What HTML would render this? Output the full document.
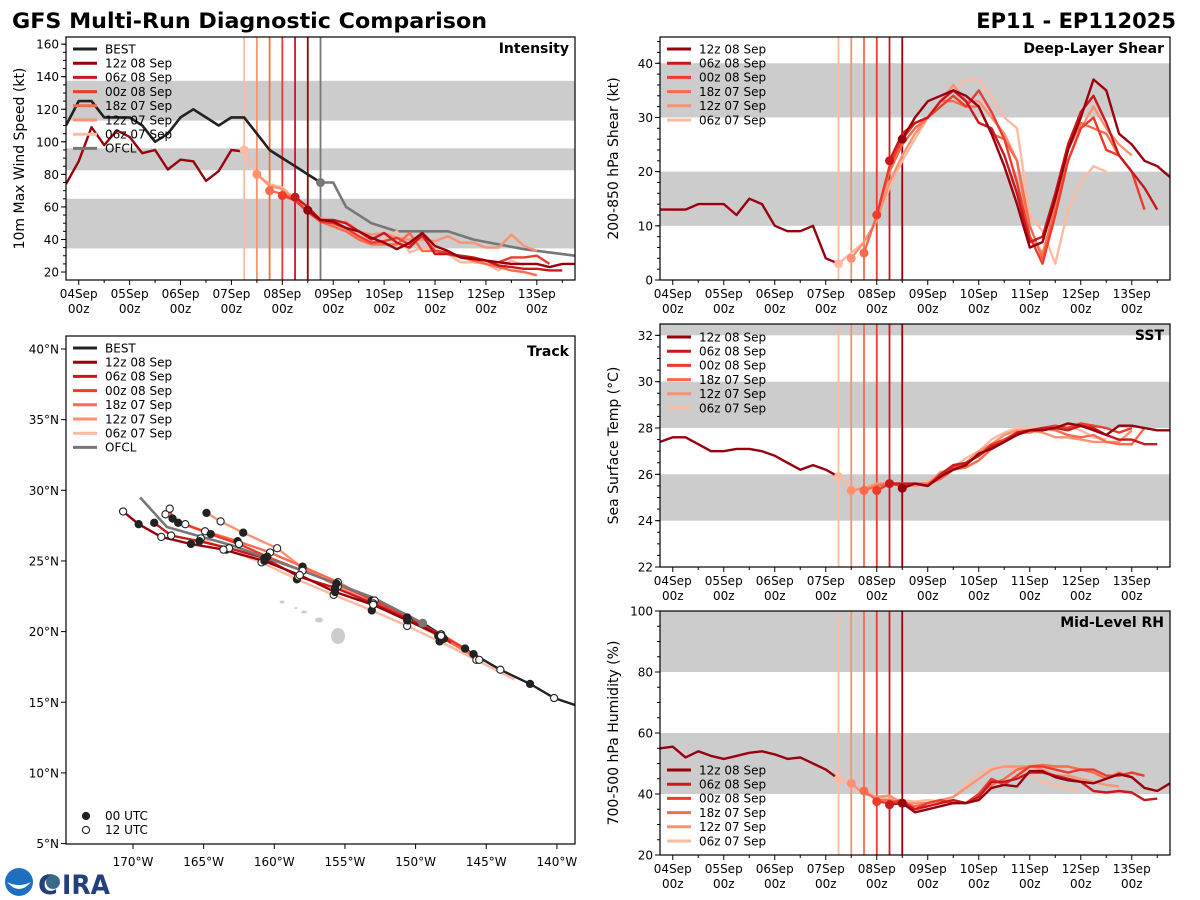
<!DOCTYPE html>
<html><head><meta charset="utf-8"><title>GFS Multi-Run Diagnostic Comparison</title>
<style>
html,body{margin:0;padding:0;background:#fff;}
svg{display:block;font-family:"DejaVu Sans","Liberation Sans",sans-serif;}
</style></head>
<body>
<svg id="chart" width="1200" height="900" viewBox="0 0 1200 900" xmlns="http://www.w3.org/2000/svg">
<text x="12" y="28" font-size="21" font-weight="bold" textLength="475" lengthAdjust="spacingAndGlyphs">GFS Multi-Run Diagnostic Comparison</text>
<text x="1176" y="28" font-size="21" font-weight="bold" text-anchor="end">EP11 - EP112025</text>
<g>
<circle cx="19" cy="882" r="14" fill="#1f6fc0"/>
<path d="M7 882 Q19 896 31 882 Q19 888 7 882Z" fill="#fff"/>
<text x="38" y="894" font-size="27" font-weight="bold" fill="#23407a">C</text>
<circle cx="53" cy="882" r="7" fill="#3a6a8a"/>
<text x="62" y="894" font-size="27" font-weight="bold" fill="#23407a" textLength="48" lengthAdjust="spacingAndGlyphs">IRA</text>
</g>
</svg>
<script>
// ---------- data ----------
const runLabels = ["12z 08 Sep","06z 08 Sep","00z 08 Sep","18z 07 Sep","12z 07 Sep","06z 07 Sep"];
const runInitHours = [108,102,96,90,84,78];
const runColors = ["#99000d","#cb181d","#ef3b2c","#fb6a4a","#fc9272","#fcbba1"];
const dayLabels = ["04Sep","05Sep","06Sep","07Sep","08Sep","09Sep","10Sep","11Sep","12Sep","13Sep"];

// Intensity (kt), history/best start at -6h, 6-hourly
const bestInt = [110,125,125,115,115,115,110,100,105,115,120,115,110,115,115,105,95,90,85,80,75];
const intHist = [74,88,109,98,107,103,93,95,83,89,88,76,82,95,94];
const ofclHours = [114,120,126,138,150,162,174,186,198,210,234];
const ofclInt = [75,75,60,50,45,45,45,40,37,34,30];
const int12z08 = [58,52,51,47,45,41,38,34,38,44,36,33,29,28,27,26,25,25,25,23,25,25];
const int06z08 = [66,60,52,52,50,45,40,44,38,35,43,31,31,30,29,27,24,23,22,22,21,21];
const int00z08 = [67,64,57,51,50,47,42,38,39,41,37,42,33,32,29,28,27,26,29,29,30,25];
const int18z07 = [70,68,65,57,51,48,45,40,37,37,37,44,33,33,31,29,27,25,23,21,20,18];
const int12z07 = [80,73,71,64,57,53,50,51,45,43,44,41,40,40,39,42,38,38,35,35,43,36,33];
const int06z07 = [95,80,74,72,65,58,52,49,47,43,38,40,45,32,35,34,31,26,26,25,21,27,24];

// Shear (kt)
const shHist = [13,13,13,14,14,14,12,15,14,10,9,9,10,4,3];
const sh12z08 = [26,30,33,34,35,34,32,27,21,14,6,7,15,24,30,37,35,27,25,22,21,19];
const sh06z08 = [22,27,29,30,33,35,33,29,28,23,16,7,8,16,25,31,34,29,23,20,17,13];
const sh00z08 = [12,21,26,29,30,32,34,32,35,31,26,18,8,3,12,22,28,30,24,23,20,13];
const sh18z07 = [5,12,20,25,28,30,33,33,32,32,27,26,22,10,4,14,24,29,28,27,23];
const sh12z07 = [4,7,11,18,23,27,30,33,36,33,33,30,27,22,8,5,13,22,28,32,28,25,23];
const sh06z07 = [3,5,7,11,17,22,26,30,33,35,37,37,34,30,28,12,9,3,13,18,21,20];

// SST (C)
const sstHist = [27.4,27.6,27.6,27.3,27.0,27.0,27.1,27.1,27.0,26.8,26.5,26.2,26.4,26.2,25.9];
const sst12z08 = [25.4,25.6,25.5,25.9,26.2,26.4,26.9,27.1,27.4,27.7,27.9,27.9,28.0,28.2,28.1,27.9,27.7,28.1,28.1,28.0,27.9,27.9];
const sst06z08 = [25.6,25.6,25.6,25.5,26.0,26.4,26.5,26.8,27.2,27.4,27.8,27.9,28.0,28.0,27.9,28.1,28.0,27.7,27.5,27.5,27.3,27.3];
const sst00z08 = [25.3,25.6,25.5,25.6,25.5,25.9,26.3,26.5,26.8,27.3,27.5,27.8,27.9,28.0,28.1,28.0,28.2,28.1,28.0,27.8,28.0];
const sst18z07 = [25.3,25.5,25.6,25.5,25.6,25.6,25.8,26.2,26.3,26.6,27.1,27.4,27.8,27.8,28.0,27.9,27.7,27.6,27.7,27.4,27.3,27.3,28.0];
const sst12z07 = [25.3,25.4,25.6,25.6,25.6,25.5,25.6,26.1,26.2,26.5,27.0,27.3,27.7,27.9,27.9,27.8,27.6,27.6,27.5,27.4,27.4,27.4,27.9];
const sst06z07 = [25.9,25.4,25.4,25.6,25.6,25.6,25.5,25.7,26.0,26.3,26.7,27.0,27.5,27.8,28.0,28.0,28.0,28.1,28.1,27.9,27.6,27.5];

// Mid-level RH (%)
const rhHist = [55,55.5,52,54,52.5,51.5,52.5,53.5,54,53,51.5,52,50,48,45];
const rh12z08 = [37,34,35,36,37,37,38,42,43,42.5,47.5,47.5,45.5,44.5,44,43.5,45,46.5,45.5,42,41,43.5];
const rh06z08 = [36.5,37,35,36,37,38,37,39,44,44,45,47,47,46,45,44,41,40.5,41,40.5,38,38.5];
const rh00z08 = [37.5,37,38,35,37,38,37,37,40,45,43,46,49,49,48,47,48,48,46,46,47,46];
const rh18z07 = [41,38,38,37,36,37,38,37,37,40,43,45,48,49,49.5,49,49,48,47,45,47,45.5];
const rh12z07 = [43.5,40,39,39.5,37,37,37,38,39,42,45,48,49,49,49,48,46,46,45,44,43,42.5];
const rh06z07 = [45,43,41,39,38.5,38,37.5,38,37.5,39,43,47,48.5,49,48,47,44,43,42,41];

// Tracks (deg lon / lat), 12-hourly
const bestLon = [-138.7,-140.2,-141.9,-144.0,-145.9,-148.2,-149.5];
const bestLat = [14.8,15.3,16.3,17.3,18.4,19.8,20.6];
const ofclLon = [-149.5,-153.0,-158.0,-163.0,-167.6,-169.5];
const ofclLat = [20.6,22.4,24.3,26.1,27.4,29.5];
const trk12z08Lon = [-148.2,-150.6,-153.0,-155.7,-158.2,-160.7,-163.6,-165.9,-168.0,-169.6,-170.7];
const trk12z08Lat = [19.7,20.8,21.9,22.8,24.0,25.0,25.8,26.2,26.7,27.6,28.5];
const trk06z08Lon = [-147.5,-148.2,-150.6,-153.0,-155.7,-158.3,-160.7,-163.2,-165.3,-167.3,-168.5];
const trk06z08Lat = [19.2,19.8,20.9,22.0,23.1,23.9,25.2,25.9,26.4,26.8,27.7];
const trk00z08Lon = [-146.5,-148.2,-150.6,-152.9,-155.6,-158.0,-160.5,-162.5,-164.5,-166.3,-167.2,-167.4];
const trk00z08Lat = [18.8,19.8,21.0,22.2,23.4,24.3,25.3,26.2,26.9,27.6,28.0,28.7];
const trk18z07Lon = [-146.0,-148.4,-150.6,-153.1,-155.5,-158.0,-160.3,-162.6,-164.9,-166.8,-167.7];
const trk18z07Lat = [18.4,19.7,21.0,22.2,23.5,24.6,25.6,26.4,27.1,27.7,28.3];
const trk12z07Lon = [-145.5,-148.0,-150.5,-153.0,-155.5,-158.0,-159.8,-162.2,-163.8,-164.8];
const trk12z07Lat = [18.0,19.5,20.8,22.0,23.2,24.5,25.9,27.0,27.8,28.4];
const trk06z07Lon = [-143.0,-145.7,-148.3,-150.6,-153.1,-155.8,-158.4,-160.9,-163.4,-165.2];
const trk06z07Lat = [16.6,18.0,19.3,20.4,21.5,22.6,23.7,24.9,25.8,26.6];
const lonTicks = [-170,-165,-160,-155,-150,-145,-140];
const latTicks = [5,10,15,20,25,30,35,40];

// ---------- helpers ----------
const svg = document.getElementById('chart');
const NS = 'http://www.w3.org/2000/svg';
function mk(tag, attrs, parent){
  const e = document.createElementNS(NS, tag);
  for (const k in attrs) e.setAttribute(k, attrs[k]);
  (parent || svg).appendChild(e);
  return e;
}
const T0 = -6, T1 = 234;

function panel(cfg){
  const g = mk('g', {});
  
  
  const xs = t => cfg.x0 + (t - T0) / (T1 - T0) * (cfg.x1 - cfg.x0);
  const ys = v => cfg.y1 - (v - cfg.vmin) / (cfg.vmax - cfg.vmin) * (cfg.y1 - cfg.y0);
  const cid = 'clip-' + cfg.name;
  const cp = mk('clipPath', {id: cid}, g);
  mk('rect', {x: cfg.x0, y: cfg.y0, width: cfg.x1 - cfg.x0, height: cfg.y1 - cfg.y0}, cp);
  const plot = mk('g', {'clip-path': 'url(#' + cid + ')'}, g);
  
  
  cfg.bands.forEach(b => {
    const r = mk('rect', {x: cfg.x0, y: ys(b[1]), width: cfg.x1 - cfg.x0, height: ys(b[0]) - ys(b[1]), fill: '#cccccc'}, plot);
    
    
  });
  return {g, plot, xs, ys};
}

function axes(cfg, p){
  const g = p.g;
  for (let v = cfg.minorStart; v <= cfg.vmax + 1e-6; v += cfg.minor){
    if (v < cfg.vmin - 1e-6) continue;
    mk('line', {x1: cfg.x0 - 3, x2: cfg.x0, y1: p.ys(v), y2: p.ys(v), stroke: '#000', 'stroke-width': 1}, g);
  }
  cfg.yTicks.forEach(v => {
    mk('line', {x1: cfg.x0 - 5, x2: cfg.x0, y1: p.ys(v), y2: p.ys(v), stroke: '#000', 'stroke-width': 1}, g);
    const t = mk('text', {x: cfg.x0 - 7, y: p.ys(v) + 4.5, 'font-size': 12, 'text-anchor': 'end'}, g);
    t.textContent = v;
    
    
  });
  for (let h = 0; h <= 228; h += 12){
    const major = h % 24 === 0;
    mk('line', {x1: p.xs(h), x2: p.xs(h), y1: cfg.y1, y2: cfg.y1 + (major ? 5 : 3), stroke: '#000', 'stroke-width': 1}, g);
  }
  dayLabels.forEach((d, i) => {
    const x = p.xs(i * 24);
    const t1 = mk('text', {x: x, y: cfg.y1 + 18, 'font-size': 12, 'text-anchor': 'middle'}, g);
    t1.textContent = d;
    
    
    const t2 = mk('text', {x: x, y: cfg.y1 + 33, 'font-size': 12, 'text-anchor': 'middle'}, g);
    t2.textContent = '00z';
    
    
  });
  const fr = mk('rect', {x: cfg.x0, y: cfg.y0, width: cfg.x1 - cfg.x0, height: cfg.y1 - cfg.y0, fill: 'none', stroke: '#000', 'stroke-width': 1.2}, g);
  
  
  const yl = mk('text', {x: 0, y: 0, 'font-size': 14, 'text-anchor': 'middle', transform: 'translate(' + (cfg.x0 - 42) + ',' + ((cfg.y0 + cfg.y1) / 2) + ') rotate(-90)'}, g);
  yl.textContent = cfg.ylabel;
  
  
  const ti = mk('text', {x: cfg.x1 - 6, y: cfg.y0 + 16, 'font-size': 14, 'font-weight': 'bold', 'text-anchor': 'end'}, g);
  ti.textContent = cfg.title;
  
  
}

function series(p, t0, vals, color, width, name){
  const pts = vals.map((v, i) => p.xs(t0 + i * 6).toFixed(1) + ',' + p.ys(v).toFixed(1)).join(' ');
  const l = mk('polyline', {points: pts, fill: 'none', stroke: color, 'stroke-width': width, 'stroke-linejoin': 'round'}, p.plot);
  
  
  return l;
}
function dot(p, t, v, color, name){
  const c = mk('circle', {cx: p.xs(t), cy: p.ys(v), r: 4.5, fill: color}, p.plot);
  
  
}
function vlines(p, cfg){
  runInitHours.slice().reverse().forEach((h, i) => {
    const col = runColors[runColors.length - 1 - i];
    const l = mk('line', {x1: p.xs(h), x2: p.xs(h), y1: cfg.y0, y2: cfg.y1, stroke: col, 'stroke-width': 1.8}, p.plot);
    
    
  });
}
function legend(g, x, y, labels, colors, name){
  const lg = mk('g', {}, g);
  
  
  labels.forEach((lab, i) => {
    const yy = y + i * 14.2;
    mk('line', {x1: x, x2: x + 24, y1: yy, y2: yy, stroke: colors[i], 'stroke-width': 3}, lg);
    const t = mk('text', {x: x + 32, y: yy + 4.3, 'font-size': 12}, lg);
    t.textContent = lab;
    
    
  });
}

// ---------- Intensity ----------
const cInt = {name: 'intensity', x0: 66, x1: 575, y0: 37, y1: 280, vmin: 15.1, vmax: 164.4,
  bands: [[34.5, 65], [82.5, 96], [113, 137.5]], yTicks: [20,40,60,80,100,120,140,160], minor: 5, minorStart: 20,
  ylabel: '10m Max Wind Speed (kt)', title: 'Intensity'};
const pInt = panel(cInt);
vlines(pInt, cInt);
(function(){
  const l = mk('line', {x1: pInt.xs(114), x2: pInt.xs(114), y1: cInt.y0, y2: cInt.y1, stroke: '#777', 'stroke-width': 1.8}, pInt.plot);
  
  
})();
series(pInt, -6, bestInt, '#222222', 2.6, 'best-intensity-line');
(function(){
  const pts = ofclHours.map((h, i) => pInt.xs(h).toFixed(1) + ',' + pInt.ys(ofclInt[i]).toFixed(1)).join(' ');
  const l = mk('polyline', {points: pts, fill: 'none', stroke: '#777777', 'stroke-width': 2.6}, pInt.plot);
  
  
  dot(pInt, ofclHours[0], ofclInt[0], '#777777', 'ofcl-start-marker');
})();
series(pInt, -6, intHist, runColors[0], 2.4, 'model-history-intensity');
const intRuns = [int12z08, int06z08, int00z08, int18z07, int12z07, int06z07];
for (let i = 5; i >= 0; i--){
  series(pInt, runInitHours[i], intRuns[i], runColors[i], 2.4, 'intensity-run-line');
  dot(pInt, runInitHours[i], intRuns[i][0], runColors[i], 'intensity-run-start');
}
axes(cInt, pInt);
legend(pInt.g, 73, 49, ['BEST'].concat(runLabels, ['OFCL']), ['#222222'].concat(runColors, ['#777777']), 'intensity-legend');

// ---------- Shear ----------
const cSh = {name: 'shear', x0: 660, x1: 1170, y0: 37, y1: 280, vmin: 0, vmax: 44.85,
  bands: [[10, 20], [30, 40]], yTicks: [0,10,20,30,40], minor: 2, minorStart: 0,
  ylabel: '200-850 hPa Shear (kt)', title: 'Deep-Layer Shear'};
const pSh = panel(cSh);
vlines(pSh, cSh);
series(pSh, -6, shHist, runColors[0], 2.4, 'shear-history-line');
const shRuns = [sh12z08, sh06z08, sh00z08, sh18z07, sh12z07, sh06z07];
for (let i = 5; i >= 0; i--){
  series(pSh, runInitHours[i], shRuns[i], runColors[i], 2.4, 'shear-run-line');
  dot(pSh, runInitHours[i], shRuns[i][0], runColors[i], 'shear-run-start');
}
axes(cSh, pSh);
legend(pSh.g, 667, 49, runLabels, runColors, 'shear-legend');

// ---------- SST ----------
const cSst = {name: 'sst', x0: 660, x1: 1170, y0: 324, y1: 567, vmin: 22, vmax: 32.49,
  bands: [[24, 26], [28, 30], [32, 40]], yTicks: [22,24,26,28,30,32], minor: 0.5, minorStart: 22,
  ylabel: 'Sea Surface Temp (°C)', title: 'SST'};
const pSst = panel(cSst);
vlines(pSst, cSst);
series(pSst, -6, sstHist, runColors[0], 2.4, 'sst-history-line');
const sstRuns = [sst12z08, sst06z08, sst00z08, sst18z07, sst12z07, sst06z07];
for (let i = 5; i >= 0; i--){
  series(pSst, runInitHours[i], sstRuns[i], runColors[i], 2.4, 'sst-run-line');
  dot(pSst, runInitHours[i], sstRuns[i][0], runColors[i], 'sst-run-start');
}
axes(cSst, pSst);
legend(pSst.g, 667, 337, runLabels, runColors, 'sst-legend');

// ---------- RH ----------
const cRh = {name: 'rh', x0: 660, x1: 1170, y0: 611, y1: 855, vmin: 20, vmax: 100,
  bands: [[40, 60], [80, 100]], yTicks: [20,40,60,80,100], minor: 5, minorStart: 20,
  ylabel: '700-500 hPa Humidity (%)', title: 'Mid-Level RH'};
const pRh = panel(cRh);
vlines(pRh, cRh);
series(pRh, -6, rhHist, runColors[0], 2.4, 'rh-history-line');
const rhRuns = [rh12z08, rh06z08, rh00z08, rh18z07, rh12z07, rh06z07];
for (let i = 5; i >= 0; i--){
  series(pRh, runInitHours[i], rhRuns[i], runColors[i], 2.4, 'rh-run-line');
  dot(pRh, runInitHours[i], rhRuns[i][0], runColors[i], 'rh-run-start');
}
axes(cRh, pRh);
legend(pRh.g, 667, 770, runLabels, runColors, 'rh-legend');

// ---------- Track ----------
const tk = {x0: 66, x1: 575, y0: 336, y1: 844};
const lx = lon => 133 + (lon + 170) * 14.13;
const ly = lat => 349 - (lat - 40) * 14.13;
const tg = mk('g', {});


const tcp = mk('clipPath', {id: 'clip-track'}, tg);
mk('rect', {x: tk.x0, y: tk.y0, width: tk.x1 - tk.x0, height: tk.y1 - tk.y0}, tcp);
const tp = mk('g', {'clip-path': 'url(#clip-track)'}, tg);


[[338,636,7,8],[319,620,4,2.5],[304,612,3,1.5],[282,602,2.5,1.5],[296,608,1.5,1]].forEach(s => {
  const e = mk('ellipse', {cx: s[0], cy: s[1], rx: s[2], ry: s[3], fill: '#cccccc'}, tp);
  
  
});
function trackLine(lons, lats, color, w, name){
  const pts = lons.map((lo, i) => lx(lo).toFixed(1) + ',' + ly(lats[i]).toFixed(1)).join(' ');
  const l = mk('polyline', {points: pts, fill: 'none', stroke: color, 'stroke-width': w, 'stroke-linejoin': 'round'}, tp);
  
  
}
function trackDots(lons, lats, firstIdx, firstBlack){
  for (let i = firstIdx; i < lons.length; i++){
    const black = ((i - firstIdx) % 2 === 0) === firstBlack;
    const c = mk('circle', {cx: lx(lons[i]), cy: ly(lats[i]), r: 3.6, fill: black ? '#222' : '#fff', stroke: '#222', 'stroke-width': 1.1}, tp);
    
    
  }
}
const trkLons = [trk12z08Lon, trk06z08Lon, trk00z08Lon, trk18z07Lon, trk12z07Lon, trk06z07Lon];
const trkLats = [trk12z08Lat, trk06z08Lat, trk00z08Lat, trk18z07Lat, trk12z07Lat, trk06z07Lat];
trackLine(bestLon, bestLat, '#222222', 2.4, 'best-track-line');
for (let i = 5; i >= 0; i--) trackLine(trkLons[i], trkLats[i], runColors[i], 2.4, 'forecast-track-line');
trackLine(ofclLon, ofclLat, '#777777', 2.6, 'ofcl-track-line');
trackDots(bestLon, bestLat, 1, false);
const dotStart = [0,1,0,1,0,1];
const dotFirstBlack = [false,false,true,true,false,false];
for (let i = 5; i >= 0; i--) trackDots(trkLons[i], trkLats[i], dotStart[i], dotFirstBlack[i]);
(function(){
  const c = mk('circle', {cx: lx(ofclLon[0]), cy: ly(ofclLat[0]), r: 4.5, fill: '#777'}, tp);
  
  
})();
lonTicks.forEach(lo => {
  mk('line', {x1: lx(lo), x2: lx(lo), y1: tk.y1, y2: tk.y1 + 5, stroke: '#000'}, tg);
  const t = mk('text', {x: lx(lo), y: tk.y1 + 22, 'font-size': 12, 'text-anchor': 'middle'}, tg);
  t.textContent = Math.abs(lo) + '°W';
  
  
});
latTicks.forEach(la => {
  mk('line', {x1: tk.x0 - 5, x2: tk.x0, y1: ly(la), y2: ly(la), stroke: '#000'}, tg);
  const t = mk('text', {x: tk.x0 - 7, y: ly(la) + 4.5, 'font-size': 12, 'text-anchor': 'end'}, tg);
  t.textContent = la + '°N';
  
  
});
(function(){
  const fr = mk('rect', {x: tk.x0, y: tk.y0, width: tk.x1 - tk.x0, height: tk.y1 - tk.y0, fill: 'none', stroke: '#000', 'stroke-width': 1.2}, tg);
  
  
  const ti = mk('text', {x: tk.x1 - 6, y: tk.y0 + 20, 'font-size': 14, 'font-weight': 'bold', 'text-anchor': 'end'}, tg);
  ti.textContent = 'Track';
  
  
  legend(tg, 73, 348, ['BEST'].concat(runLabels, ['OFCL']), ['#222222'].concat(runColors, ['#777777']), 'track-legend');
  const lg = mk('g', {}, tg);
  
  
  mk('circle', {cx: 86, cy: 816, r: 3.6, fill: '#222', stroke: '#222'}, lg);
  const a = mk('text', {x: 105, y: 820, 'font-size': 12}, lg);
  a.textContent = '00 UTC';
  
  
  mk('circle', {cx: 86, cy: 830, r: 3.6, fill: '#fff', stroke: '#222', 'stroke-width': 1.1}, lg);
  const b = mk('text', {x: 105, y: 834, 'font-size': 12}, lg);
  b.textContent = '12 UTC';
  
  
})();
</script>
</body></html>
